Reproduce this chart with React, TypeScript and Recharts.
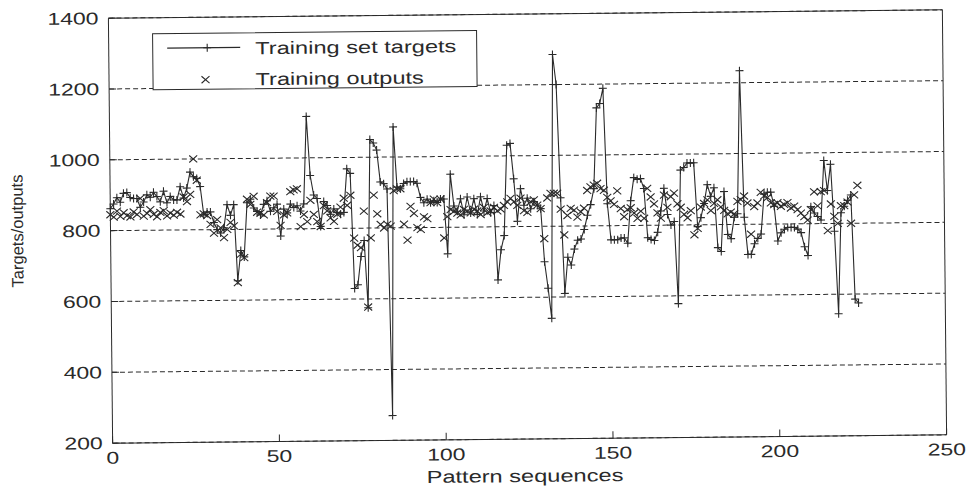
import React from 'react'
import { ComposedChart, Line, XAxis, YAxis, CartesianGrid } from 'recharts'

// training set targets, one per pattern sequence (0..224)
const targets = [
  862, 875, 893, 880, 905, 907, 893, 890, 890, 865,
  880, 900, 893, 907, 895, 880, 910, 877, 895, 885,
  885, 922, 890, 918, 963, 950, 945, 922, 842, 850,
  850, 820, 800, 790, 805, 870, 840, 870, 655, 740,
  722, 875, 885, 860, 850, 840, 870, 880, 850, 860,
  870, 780, 856, 845, 870, 860, 865, 850, 870, 1117,
  950, 895, 885, 806, 876, 865, 840, 855, 845, 840,
  845, 968, 955, 630, 640, 720, 765, 575, 1050, 1040,
  1020, 930, 925, 910, 270, 1085, 915, 910, 925, 930,
  930, 930, 925, 885, 870, 880, 870, 875, 870, 880,
  880, 725, 950, 860, 845, 880, 835, 885, 840, 880,
  835, 885, 845, 880, 840, 860, 650, 735, 775, 1030,
  1035, 935, 815, 907, 860, 880, 850, 870, 860, 850,
  700, 625, 540, 1285, 1200, 880, 610, 712, 690, 735,
  760, 763, 790, 830, 860, 905, 1133, 1145, 1188, 862,
  760, 760, 760, 765, 765, 750, 870, 935, 930, 932,
  904, 765, 760, 757, 780, 840, 904, 830, 800, 810,
  578, 955, 962, 975, 975, 975, 795, 820, 860, 913,
  880, 904, 735, 724, 893, 772, 760, 820, 830, 1234,
  820, 715, 715, 745, 760, 772, 885, 890, 890, 850,
  752, 775, 785, 790, 790, 790, 785, 775, 735, 710,
  848, 830, 820, 810, 978, 893, 967, 778, 545, 830,
  848, 865, 880, 586, 575,
]

// network outputs for the same sequences
const outputs = [
  845, 838, 855, 840, 850, 842, 838, 852, 845, 890,
  840, 848, 858, 845, 838, 850, 855, 840, 848, 842,
  850, 845, 893, 880, 900, 1000, 940, 842, 845, 840,
  815, 790, 828, 805, 777, 800, 820, 810, 650, 730,
  720, 885, 870, 893, 848, 845, 840, 875, 893, 893,
  850, 810, 840, 845, 905, 910, 913, 806, 840, 820,
  880, 840, 820, 806, 865, 850, 830, 820, 840, 860,
  885, 865, 893, 772, 752, 745, 848, 577, 772, 893,
  840, 810, 800, 810, 805, 905, 910, 910, 810, 765,
  860, 840, 800, 795, 830, 825, 870, 880, 870, 880,
  770, 830, 850, 845, 840, 835, 850, 845, 840, 850,
  845, 835, 855, 840, 845, 855, 845, 850, 860, 870,
  880, 870, 860, 880, 845, 840, 870, 875, 860, 850,
  765, 880, 893, 893, 893, 848, 775, 830, 850, 845,
  825, 840, 850, 900, 910, 915, 920, 905, 900, 880,
  870, 860, 898, 848, 825, 845, 850, 835, 820, 840,
  820, 904, 880, 860, 835, 820, 885, 850, 880, 890,
  860, 850, 830, 820, 840, 772, 790, 850, 860, 870,
  840, 860, 870, 850, 840, 830, 835, 830, 865, 870,
  880, 860, 772, 850, 860, 890, 880, 875, 860, 855,
  860, 850, 855, 860, 845, 850, 840, 830, 820, 810,
  840, 890, 850, 890, 893, 780, 855, 820, 800, 850,
  850, 860, 800, 880, 907,
]

const xTicks = [0, 50, 100, 150, 200, 250]
const yTicks = [200, 400, 600, 800, 1000, 1200, 1400]

const data = targets.map((t, i) => ({ x: i, target: t, output: outputs[i] }))

const INK = '#2a2a2a'
const FONT = '"Liberation Sans", Arial, Helvetica, sans-serif'
// the scanned figure is stretched sideways (texts too) and slightly tilted
const STRETCH = 1.35
const TILT = -0.57

const PlusDot = (props: any) => {
  const { cx, cy } = props
  if (cx == null || cy == null) return null
  return (
    <path
      d={`M${cx - 4},${cy}H${cx + 4}M${cx},${cy - 4}V${cy + 4}`}
      stroke={INK}
      strokeWidth={1.1}
      fill="none"
    />
  )
}

const CrossDot = (props: any) => {
  const { cx, cy } = props
  if (cx == null || cy == null) return null
  return (
    <path
      d={`M${cx - 4},${cy - 3.5}L${cx + 4},${cy + 3.5}M${cx - 4},${cy + 3.5}L${cx + 4},${cy - 3.5}`}
      stroke={INK}
      strokeWidth={1.1}
      fill="none"
    />
  )
}

const XTick = (props: any) => (
  <text
    transform={`translate(${props.x},459.5) scale(${STRETCH},1)`}
    textAnchor="middle"
    fontSize={17}
    fontFamily={FONT}
    fill={INK}
  >
    {props.payload.value}
  </text>
)

const YTick = (props: any) => (
  <text
    transform={`translate(100.5,${props.y + 6}) scale(${STRETCH},1)`}
    textAnchor="end"
    fontSize={17}
    fontFamily={FONT}
    fill={INK}
  >
    {props.payload.value}
  </text>
)

function Legend() {
  return (
    <svg
      width={969}
      height={490}
      style={{ position: 'absolute', left: 0, top: 0, pointerEvents: 'none' }}
    >
      <g transform="translate(2,-3.5)">
        <rect x={152.5} y={33.5} width={324} height={56} fill="#fff" stroke={INK} strokeWidth={1} />
        <line x1={167} y1={48} x2={240} y2={48} stroke={INK} strokeWidth={1.1} />
        <PlusDot cx={207} cy={48} />
        <text transform={`translate(255,55) scale(${STRETCH},1)`} fontSize={17.5} fontFamily={FONT} fill={INK}>
          Training set targets
        </text>
        <CrossDot cx={205} cy={80} />
        <text transform={`translate(255,86) scale(${STRETCH},1)`} fontSize={17.5} fontFamily={FONT} fill={INK}>
          Training outputs
        </text>
      </g>
    </svg>
  )
}

export default function App() {
  return (
    <div
      style={{
        position: 'absolute',
        left: 0,
        top: 0,
        width: 969,
        height: 490,
        background: '#fff',
        transform: `rotate(${TILT}deg)`,
        transformOrigin: '527.5px 226.4px',
      }}
    >
      <ComposedChart
        width={969}
        height={490}
        data={data}
        margin={{ top: 13, right: 23.5, bottom: 0, left: 0 }}
      >
        <CartesianGrid
          vertical={false}
          stroke={INK}
          strokeDasharray="5 3"
          strokeWidth={1}
        />
        <XAxis
          dataKey="x"
          type="number"
          domain={[0, 250]}
          ticks={xTicks}
          height={51}
          stroke={INK}
          tickSize={-7}
          tick={<XTick />}
          label={{
            content: () => (
              <text
                transform={`translate(522.5,482) scale(${STRETCH},1)`}
                textAnchor="middle"
                fontSize={17.5}
                fontFamily={FONT}
                fill={INK}
              >
                Pattern sequences
              </text>
            ),
          }}
        />
        {/* top and right axes close the box, as in the original figure */}
        <XAxis
          xAxisId="top"
          orientation="top"
          dataKey="x"
          type="number"
          domain={[0, 250]}
          ticks={xTicks}
          height={1}
          stroke={INK}
          tickSize={-7}
          tick={false}
        />
        <YAxis
          type="number"
          domain={[200, 1400]}
          ticks={yTicks}
          width={110.5}
          stroke={INK}
          tickSize={-7}
          tick={<YTick />}
          label={{
            content: () => (
              <text
                transform="translate(23,226) rotate(-90)"
                textAnchor="middle"
                fontSize={16.5}
                fontFamily={FONT}
                fill={INK}
              >
                Targets/outputs
              </text>
            ),
          }}
        />
        <YAxis
          yAxisId="right"
          orientation="right"
          type="number"
          domain={[200, 1400]}
          ticks={yTicks}
          width={1}
          stroke={INK}
          tickSize={-7}
          tick={false}
        />
        <Line
          dataKey="target"
          stroke={INK}
          strokeWidth={1.1}
          dot={<PlusDot />}
          activeDot={false}
          isAnimationActive={false}
        />
        <Line
          dataKey="output"
          xAxisId="top"
          yAxisId="right"
          stroke="none"
          dot={<CrossDot />}
          activeDot={false}
          isAnimationActive={false}
        />
      </ComposedChart>
      <Legend />
    </div>
  )
}
